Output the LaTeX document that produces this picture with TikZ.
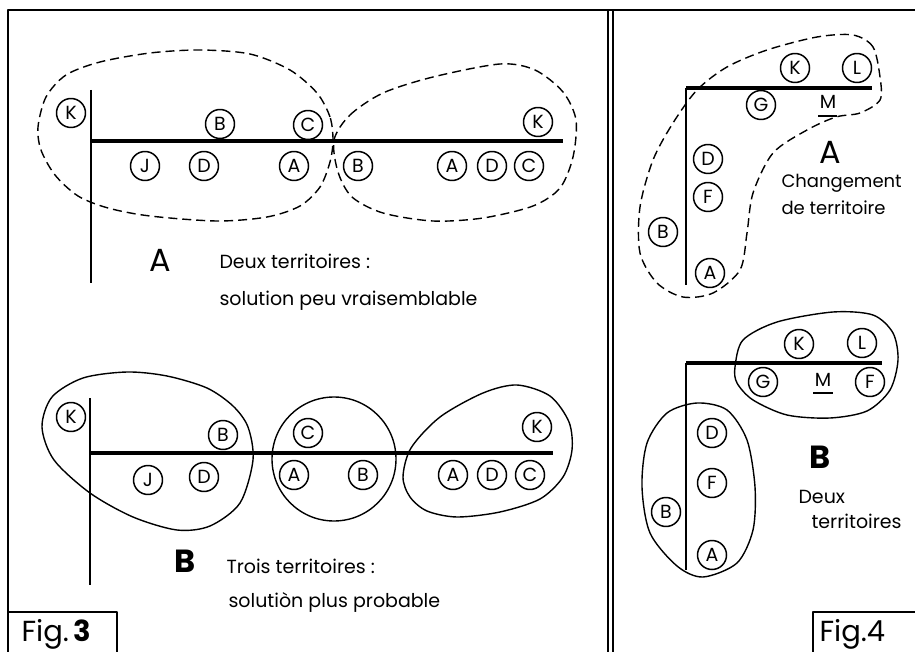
\documentclass[tikz,border=0pt]{standalone}
\usepackage{fontspec}
\setmainfont{Poppins}
\begin{document}
\begin{tikzpicture}[x=1pt, y=-1pt, line join=round,
  every node/.style={font=\fontsize{19}{22}\selectfont},
  bird/.style={circle, draw, line width=1.5pt, minimum size=29pt, inner sep=0pt},
  axe/.style={line width=3.4pt},
  axev/.style={line width=2.2pt},
  terr/.style={line width=1.4pt},
  terrd/.style={line width=1.4pt, dash pattern=on 9pt off 5pt},
  big/.style={font=\fontsize{32}{32}\selectfont},
  txt/.style={anchor=base west, font=\fontsize{19}{22}\selectfont}]
  \useasboundingbox (0,0) rectangle (915,652);
  % frame, divider and figure boxes
  \draw[line width=1.4pt] (8,652) -- (8,10) -- (915,10);
  \draw[line width=1.2pt] (608,10) -- (608,652) (613,10) -- (613,652);
  \draw[line width=1.2pt] (8,612) -- (117,612) -- (117,652);
  \draw[line width=1.2pt] (813,652) -- (813,612) -- (915,612);
  \node[big, font=\fontsize{29}{29}\selectfont, anchor=base west] (fig3) at (18,641) {Fig.\,\textbf{3}};
  \node[big, font=\fontsize{29}{29}\selectfont, anchor=base west] (fig4) at (816,641) {Fig.4};

  % Fig. 3 A : two territories (dashed)
  \draw[axev] (91,90) -- (91,283); \draw[axe] (91,141) -- (563,141);
  \foreach \n/\x/\y/\t in {K/71/113/K, B/220/124/B, C/308/125/C, J/145/166/J, D/204/166/D, A/294/166/A,
    Bb/358/166/B, Ab/452/166/A, Db/492/166/D, Cb/529/166/C, Kb/538/122/K}
    \node[bird] (a\n) at (\x,\y) {\t};
  \draw[terrd] plot[smooth cycle] coordinates {(333,140) (330,117) (317,93) (290,70) (250,54) (200,50) (150,53)
    (100,62) (66,75) (46,97) (38,127) (41,150) (55,175) (78,196) (108,208) (150,216) (217,221) (267,217)
    (300,206) (320,187) (330,162)};
  \draw[terrd] plot[smooth cycle] coordinates {(334,140) (350,115) (383,93) (433,77) (500,64) (535,70)
    (563,92) (576,120) (573,157) (560,188) (533,206) (483,218) (433,221) (383,213) (352,197) (338,172)};
  \node[big] (labA) at (160,260) {A};
  \node[txt] (tA1) at (216,269) {Deux territoires :};
  \node[txt] (tA2) at (216,305) {solution peu vraisemblable};

  % Fig. 3 B : three territories
  \draw[axev] (90,398) -- (90,585); \draw[axe] (90,453) -- (553,453);
  \foreach \n/\x/\y/\t in {K/71/417/K, B/223/435/B, J/148/480/J, D/204/477/D, C/308/433/C, A/294/475/A,
    Bb/363/475/B, Ab/453/475/A, Db/492/475/D, Cb/530/475/C, Kb/537/427/K}
    \node[bird] (b\n) at (\x,\y) {\t};
  \draw[terr] plot[smooth cycle] coordinates {(127,372) (83,378) (52,397) (42,427) (54,460) (90,493)
    (133,517) (177,530) (210,526) (240,503) (253,460) (248,427) (233,406) (207,388) (167,376)};
  \draw[terr] (334,459) circle (62);
  \draw[terr] plot[smooth cycle] coordinates {(403,477) (411,448) (440,417) (483,393) (517,385) (550,396)
    (569,422) (572,450) (563,477) (540,499) (500,512) (457,517) (427,511) (410,497)};
  \node[big, font=\fontsize{32}{32}\selectfont\bfseries] (labB) at (185,561) {B};
  \node[txt] (tB1) at (223,573) {Trois territoires :};
  \node[txt] (tB2) at (225,607) {solutiòn plus probable};

  % Fig. 4 A : change of territory
  \draw[axe] (686,88) -- (872,88); \draw[axev] (686,88) -- (686,285);
  \foreach \n/\x/\y/\t in {K/795/68/K, L/857/68/L, G/761/105/G, D/708/159/D, F/708/197/F, B/663/232/B, A/710/273/A}
    \node[bird] (c\n) at (\x,\y) {\t};
  \node (cM) at (828,102) {M};
  \draw[line width=2.4pt] (818,116) -- (837,116);
  \draw[terrd] plot[smooth cycle] coordinates {(880,77) (873,47) (853,35) (817,37) (767,50) (727,67)
    (697,90) (673,123) (653,160) (640,207) (640,253) (657,283) (683,297) (713,293) (740,270) (747,233)
    (753,193) (773,153) (807,130) (836,117) (860,113) (880,100)};
  \node[big] (labcA) at (830,152) {A};
  \node[txt, font=\fontsize{18}{21}\selectfont] (tcA1) at (778,188) {Changement};
  \node[txt, font=\fontsize{18}{21}\selectfont] (tcA2) at (778,215) {de territoire};

  % Fig. 4 B : two territories
  \draw[axe] (686,363) -- (882,363); \draw[axev] (686,363) -- (686,570);
  \foreach \n/\x/\y/\t in {K/799/344/K, L/862/343/L, G/763/382/G, F/870/382/F, D/712/433/D, Fb/712/483/F,
    B/666/512/B, A/712/555/A}
    \node[bird] (d\n) at (\x,\y) {\t};
  \node (dM) at (823,380) {M};
  \draw[line width=2.4pt] (813,393) -- (833,393);
  \draw[terr] plot[smooth cycle] coordinates {(735,367) (743,340) (777,322) (833,312) (873,315) (893,333)
    (898,360) (890,390) (867,411) (830,418) (787,415) (753,400) (737,383)};
  \draw[terr] plot[smooth cycle] coordinates {(697,403) (667,413) (647,443) (642,487) (650,533) (677,566)
    (703,577) (737,563) (753,530) (755,487) (747,440) (727,410)};
  \node[big, font=\fontsize{32}{32}\selectfont\bfseries] (labdB) at (820,457) {B};
  \node[txt] (tdB1) at (795,503) {Deux};
  \node[txt] (tdB2) at (808,528) {territoires};
\end{tikzpicture}
\end{document}
